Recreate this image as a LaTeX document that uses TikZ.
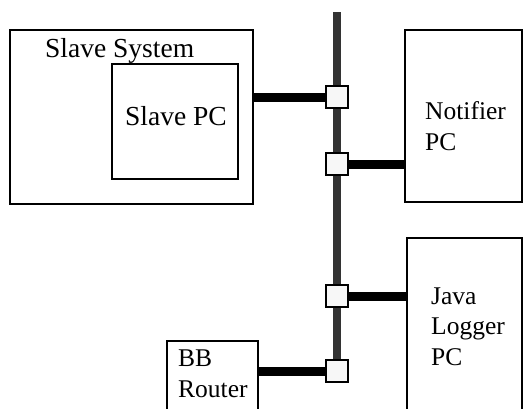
\documentclass[tikz,border=0pt]{standalone}
\usepackage{fontspec}
\setmainfont{Liberation Serif}
\begin{document}
\begin{tikzpicture}[x=1pt,y=-1pt,
  box/.style={draw=black,line width=1.6pt,inner sep=0pt},
  port/.style={draw=black,line width=1.4pt,fill=white!97!black,minimum size=22pt,inner sep=0pt},
  conn/.style={line width=9pt,draw=black},
  bus/.style={line width=8pt,draw=black!80},
  big/.style={font=\fontsize{27.5}{30}\selectfont,inner sep=0pt,anchor=base west},
  lbl/.style={font=\fontsize{25.5}{30.5}\selectfont,inner sep=0pt,anchor=base west,align=left}]
\useasboundingbox (0,0) rectangle (524,408);
% boxes
\node[box,minimum width=243pt,minimum height=174pt] (ss) at (131.5,117) {};
\node[box,minimum width=126pt,minimum height=115pt] (spc) at (175,121.5) {};
\node[box,minimum width=117pt,minimum height=172pt] (np) at (463.5,116) {};
\node[box,minimum width=115pt,minimum height=180pt] (jl) at (464.5,328) {};
\node[box,minimum width=91pt,minimum height=80pt] (bb) at (212.5,381) {};
% texts (base = last line)
\node[big] (tss) at (45,57) {Slave System};
\node[big] (tspc) at (125,125) {Slave PC};
\node[lbl] (tnp) at (425,150) {Notifier\\PC};
\node[lbl] (tjl) at (431,365) {Java\\Logger\\PC};
\node[lbl] (tbb) at (178,397) {BB\\Router};
% bus
\coordinate (top) at (337,12);
\coordinate (c1) at (337,97);
\coordinate (c2) at (337,164);
\coordinate (c3) at (337,296);
\coordinate (c4) at (337,371);
\draw[bus] (top) -- (c4);
% connectors
\draw[conn] (ss.east |- c1) -- (c1);
\draw[conn] (c2) -- (np.west |- c2);
\draw[conn] (c3) -- (jl.west |- c3);
\draw[conn] (bb.east |- c4) -- (c4);
% ports on top
\node[port] (p1) at (c1) {};
\node[port] (p2) at (c2) {};
\node[port] (p3) at (c3) {};
\node[port] (p4) at (c4) {};
\end{tikzpicture}
\end{document}
